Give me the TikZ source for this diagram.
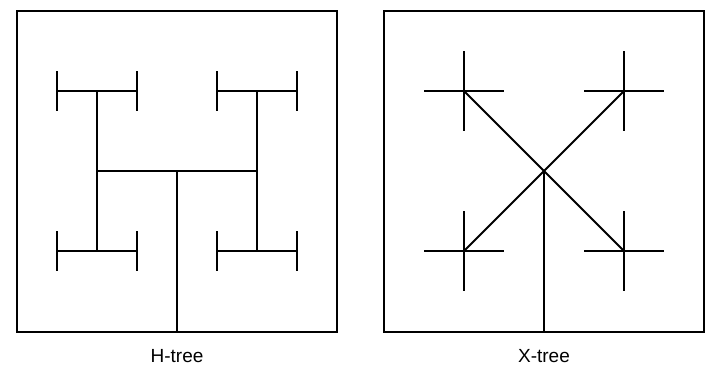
\documentclass[tikz,border=0pt]{standalone}
\usepackage{fontspec}
\setmainfont{Liberation Sans}
\usetikzlibrary{calc}

\begin{document}
\begin{tikzpicture}[
  x=1pt, y=-1pt,
  frame/.style = {draw=black, line width=2pt, inner sep=0pt,
                  minimum width=320pt, minimum height=321pt},
  wire/.style  = {draw=black, line width=2pt},
  treelbl/.style = {font=\fontsize{19}{22}\selectfont, anchor=base,
                    inner sep=0pt},
]
\useasboundingbox (0,0) rectangle (705,365);

%── H-tree ────────────────────────────────────────────────────────────────────
\node[frame] (hbox) at (177,171) {};
\coordinate (hc) at (177,171);
\foreach \s/\n in {-1/l,1/r}{
  \coordinate (h\n) at ($(hc)+(\s*80,0)$);
  \foreach \t/\m in {-1/u,1/d}
    \coordinate (h\n\m) at ($(h\n)+(0,\t*80)$);
}
\draw[wire] (hbox.south) -- (hc);
\draw[wire] (hl) -- (hr);
\foreach \n in {l,r}{
  \draw[wire] (h\n u) -- (h\n d);
  \foreach \m in {u,d}{
    \draw[wire] ($(h\n\m)+(-40,0)$) -- ($(h\n\m)+(40,0)$);
    \draw[wire] ($(h\n\m)+(-40,-20)$) -- ($(h\n\m)+(-40,20)$);
    \draw[wire] ($(h\n\m)+(40,-20)$) -- ($(h\n\m)+(40,20)$);
  }
}
\node[treelbl] (hlbl) at ($(hbox.south)+(0,30)$) {H-tree};

%── X-tree ────────────────────────────────────────────────────────────────────
\node[frame] (xbox) at (544,171) {};
\coordinate (xc) at (544,171);
\foreach \s/\n in {-1/l,1/r}
  \foreach \t/\m in {-1/u,1/d}
    \coordinate (x\n\m) at ($(xc)+(\s*80,\t*80)$);
\draw[wire] (xbox.south) -- (xc);
\foreach \n in {l,r}{
  \foreach \m in {u,d}{
    \draw[wire] (xc) -- (x\n\m);
    \draw[wire] ($(x\n\m)+(-40,0)$) -- ($(x\n\m)+(40,0)$);
    \draw[wire] ($(x\n\m)+(0,-40)$) -- ($(x\n\m)+(0,40)$);
  }
}
\node[treelbl] (xlbl) at ($(xbox.south)+(0,30)$) {X-tree};

\end{tikzpicture}
\end{document}
